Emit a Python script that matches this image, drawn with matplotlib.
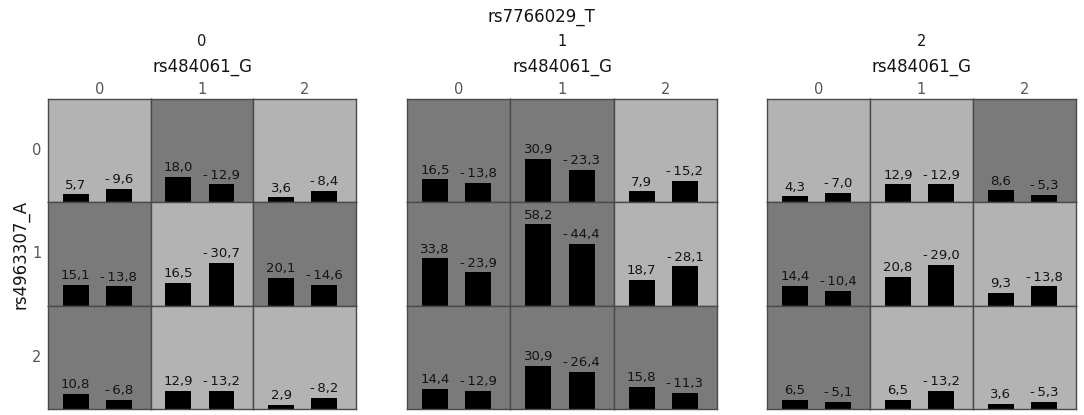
import numpy as np
import matplotlib.pyplot as plt

# ── Data ─────────────────────────────────────────────────────────────────────
TITLE      = "rs7766029_T"
PANEL_LBL  = ["0", "1", "2"]            # rs7766029_T genotype
COL_NAME   = "rs484061_G"
COL_LBL    = ["0", "1", "2"]
ROW_NAME   = "rs4963307_A"
ROW_LBL    = ["0", "1", "2"]

# positive / negative values per panel, [row][col]
POS_0 = [[5.7, 18.0, 3.6], [15.1, 16.5, 20.1], [10.8, 12.9, 2.9]]
NEG_0 = [[-9.6, -12.9, -8.4], [-13.8, -30.7, -14.6], [-6.8, -13.2, -8.2]]
POS_1 = [[16.5, 30.9, 7.9], [33.8, 58.2, 18.7], [14.4, 30.9, 15.8]]
NEG_1 = [[-13.8, -23.3, -15.2], [-23.9, -44.4, -28.1], [-12.9, -26.4, -11.3]]
POS_2 = [[4.3, 12.9, 8.6], [14.4, 20.8, 9.3], [6.5, 6.5, 3.6]]
NEG_2 = [[-7.0, -12.9, -5.3], [-10.4, -29.0, -13.8], [-5.1, -13.2, -5.3]]
POS = [POS_0, POS_1, POS_2]
NEG = [NEG_0, NEG_1, NEG_2]

# ── Style ────────────────────────────────────────────────────────────────────
W, H     = 1084, 415
LIGHT    = "#b3b3b3"
DARK     = "#7a7a7a"
EDGE     = "#4a4a4a"
TXT      = "#141414"
TICK_TXT = "#555555"
Y_MAX    = 74.0          # value range of one cell
PANEL_X  = [(48, 356), (407, 717), (767, 1076)]   # px
PANEL_Y  = (99, 409)                               # px (top, bottom)


def fx(px):
    return px / W


def fy(py):
    return 1 - py / H


def fmt(v):
    return f"{v:.1f}".replace(".", ",").replace("-", "-\u2009")


fig = plt.figure(figsize=(W / 100, H / 100), dpi=100)

for p, (x0, x1) in enumerate(PANEL_X):
    cw = (x1 - x0) / 3
    ch = (PANEL_Y[1] - PANEL_Y[0]) / 3
    for r in range(3):
        for c in range(3):
            pos, neg = POS[p][r][c], NEG[p][r][c]
            ax = fig.add_axes([fx(x0 + c * cw), fy(PANEL_Y[0] + (r + 1) * ch),
                               cw / W, ch / H])
            ax.set_facecolor(DARK if pos > abs(neg) else LIGHT)
            vals = [pos, neg]
            heights = [abs(v) for v in vals]
            ax.bar([0, 1], heights, width=0.6, color="black", zorder=2)
            for i, v in enumerate(vals):
                ax.text(i, heights[i] + 2.0, fmt(v), ha="center", va="bottom",
                        fontsize=9.5, color=TXT)
            ax.set_xlim(-0.643, 1.738)
            ax.set_ylim(0, Y_MAX)
            ax.set_xticks([])
            ax.set_yticks([])
            for s in ax.spines.values():
                s.set_color(EDGE)
                s.set_linewidth(1.0)

    xc = (x0 + x1) / 2
    fig.text(fx(xc), fy(41), PANEL_LBL[p], ha="center", va="center",
             fontsize=10.5, color=TXT)
    fig.text(fx(xc), fy(67), COL_NAME, ha="center", va="center",
             fontsize=12, color=TXT)
    for c in range(3):
        fig.text(fx(x0 + (c + 0.5) * cw), fy(89), COL_LBL[c], ha="center",
                 va="center", fontsize=10.5, color=TICK_TXT)

# row labels on the left panel
ch = (PANEL_Y[1] - PANEL_Y[0]) / 3
for r in range(3):
    fig.text(fx(37), fy(PANEL_Y[0] + (r + 0.5) * ch), ROW_LBL[r], ha="center",
             va="center", fontsize=10.5, color=TICK_TXT)
fig.text(fx(21), fy(254), ROW_NAME, ha="center", va="center", rotation=90,
         fontsize=12, color=TXT)

fig.text(fx(541), fy(17), TITLE, ha="center", va="center", fontsize=12,
         color=TXT)

fig.savefig("out.png", dpi=100)
